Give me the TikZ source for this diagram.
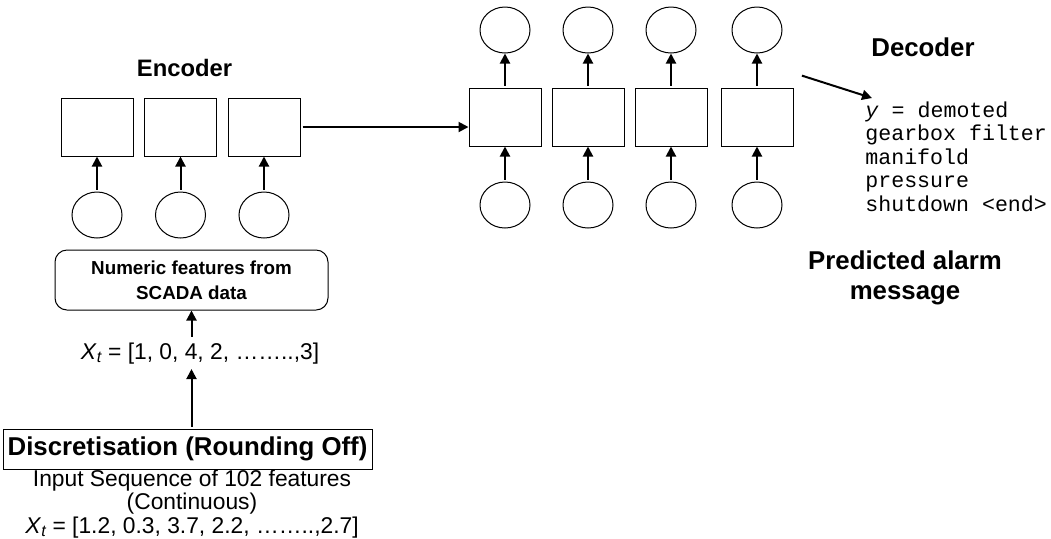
\documentclass[tikz,border=0pt]{standalone}
\usepackage{fontspec}
\setmainfont{Liberation Sans}
\setmonofont{Liberation Mono}
\usetikzlibrary{positioning,arrows.meta,shapes.geometric}
\newcommand\xsubt{\textit{X}\raisebox{-0.25ex}{\fontsize{8}{8}\selectfont\textit{t}}}

\begin{document}
\begin{tikzpicture}[x=0.5pt,y=-0.5pt,
    cell/.style={draw,line width=0.5pt,minimum width=36pt,minimum height=29pt,inner sep=0pt},
    unit/.style={draw,ellipse,line width=0.5pt,minimum width=25pt,minimum height=23pt,inner sep=0pt},
    arr/.style={-{Triangle[length=5pt,width=5pt]},line width=1pt,shorten <=1pt},
    ttl/.style={font=\fontsize{12.9}{15}\selectfont\bfseries,align=center}]
  \useasboundingbox (0,0) rectangle (1051,538);
  % encoder
  \foreach \i/\x in {1/97,2/180.5,3/264}{
    \node[cell] (enc\i) at (\x,127) {};
    \node[unit] (encin\i) at (\x,215) {};
    \draw[arr] (encin\i) -- (enc\i);}
  \node[ttl,font=\fontsize{11.9}{14}\selectfont\bfseries] (enclbl) at (184.5,68) {Encoder};
  % decoder
  \foreach \i/\x in {1/505,2/588,3/671,4/757}{
    \node[cell] (dec\i) at (\x,117) {};
    \node[unit] (decin\i) at (\x,205) {};
    \node[unit] (decout\i) at (\x,30) {};
    \draw[arr] (decin\i) -- (dec\i);
    \draw[arr] (dec\i) -- (decout\i);}
  \draw[arr] (enc3.east) -- (enc3.east -| dec1.west);
  \node[ttl] (declbl) at (923,47) {Decoder};
  % input side
  \node[draw,line width=0.5pt,rounded corners=6pt,minimum width=136.5pt,minimum height=30pt,
    align=center,font=\fontsize{9.4}{12.5}\selectfont\bfseries] (feat) at (191.5,280)
    {Numeric features from\\SCADA data};
  \node[font=\fontsize{11.4}{14}\selectfont,inner sep=2pt] (xq) at (200,354)
    {\xsubt{} = [1, 0, 4, 2, ……..,3]};
  \node[draw,line width=0.5pt,minimum width=184.5pt,minimum height=20pt,inner sep=0pt,
    font=\fontsize{12.9}{15}\selectfont\bfseries] (disc) at (187.5,449)
    {Discretisation (Rounding Off)};
  \node[align=center,font=\fontsize{11.4}{11.6}\selectfont] (raw) at (192,504)
    {Input Sequence of 102 features\\(Continuous)\\
     \xsubt{} = [1.2, 0.3, 3.7, 2.2, ……..,2.7]};
  \draw[arr] (feat.south |- xq.north) -- (feat.south);
  \draw[arr] (feat.south |- disc.north) -- (feat.south |- xq.south);
  % output message
  \coordinate (msgtail) at (800,75);
  \coordinate (msghead) at (872,98);
  \draw[arr] (msgtail) -- (msghead);
  \node[anchor=west,align=left,inner sep=0pt,font=\fontsize{10.8}{11.7}\selectfont\ttfamily]
    (msg) at (865,156.5)
    {\textit{y} = demoted\\gearbox filter\\manifold\\pressure\\shutdown <end>};
  \node[ttl] (predlbl) at (905,278) {Predicted alarm\\message};
\end{tikzpicture}
\end{document}
